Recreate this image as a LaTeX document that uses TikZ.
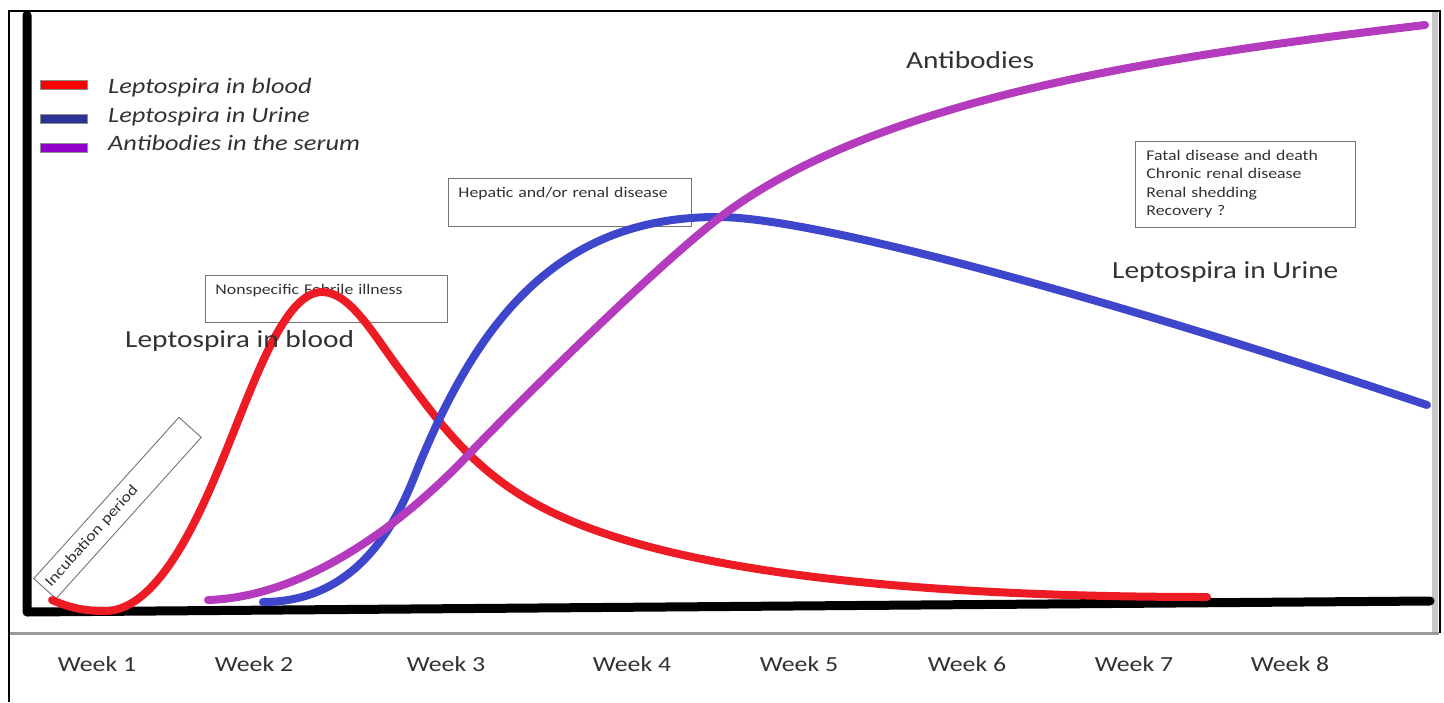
\documentclass[tikz,border=0pt]{standalone}
\usepackage{fontspec}
\setmainfont{Carlito}[FakeStretch=1.2]
\usepackage{tikz}
\definecolor{bloodred}{RGB}{237,28,36}
\definecolor{urineblue}{RGB}{62,70,204}
\definecolor{serumpurple}{RGB}{180,58,190}
\definecolor{legred}{RGB}{250,0,0}
\definecolor{legblue}{RGB}{46,50,150}
\definecolor{legpurple}{RGB}{145,0,200}
\definecolor{inktext}{RGB}{50,50,50}
\tikzset{
	curve/.style={line width=8pt, line cap=round, line join=round},
	legbar/.style={draw=black!45, line width=0.4pt, minimum width=47pt, minimum height=9pt, inner sep=0pt},
	legtext/.style={inner sep=0pt, text=inktext, anchor=base west, font=\itshape\fontsize{22}{26}\selectfont},
	biglabel/.style={inner sep=0pt, text=inktext, anchor=base west, font=\fontsize{24.5}{29}\selectfont},
	weeklabel/.style={inner sep=0pt, text=inktext, anchor=base, font=\fontsize{21.5}{26}\selectfont},
	stagebox/.style={draw=black!55, line width=0.9pt, anchor=north west, align=left, text=inktext,
		inner xsep=10pt, inner ysep=8pt, text height=11pt, font=\fontsize{14.8}{18.5}\selectfont}
}

\begin{document}
\begin{tikzpicture}[x=1pt, y=-1pt]
			%%%%% START %%%%%
			\useasboundingbox (0,0) rectangle (1444,702);
			
			\draw[line width=2.5pt] (9,702) -- (9,11) -- (1440,11) -- (1440,633);
			\fill[black!22] (1432,12) rectangle (1438,632);
			\draw[line width=3pt, color=black!40] (10,633) -- (1439,633);
			
			\draw[line width=9pt, line join=round, line cap=round] (27,15) -- (27,612) -- (1430,601);
			
			\node[legbar, fill=legred] (legblood) at (63.5,84.5) {};
			\node[legbar, fill=legblue] (legurine) at (63.5,118.5) {};
			\node[legbar, fill=legpurple] (legserum) at (63.5,148) {};
			\node[legtext] (legbloodtxt) at (108,93) {Leptospira in blood};
			\node[legtext] (legurinetxt) at (108,122) {Leptospira in Urine};
			\node[legtext] (legserumtxt) at (108,150) {Antibodies in the serum};
			
			\node[stagebox, minimum width=242pt, text width=222pt, text depth=20pt] (febrile) at (205,275) {Nonspecific Febrile illness};
			\node[stagebox, minimum width=243pt, text width=223pt, text depth=21pt] (hepatic) at (448,178) {Hepatic and/or renal disease};
			\node[stagebox, minimum width=219pt, text width=198pt, inner xsep=11pt, text depth=59pt] (outcome) at (1135,141)
				{Fatal disease and death\\Chronic renal disease\\Renal shedding\\Recovery ?};
			\node[draw=black!55, line width=0.9pt, rotate=48, minimum width=217pt, minimum height=30pt, text width=207pt,
				inner xsep=5pt, align=left, text=inktext, font=\fontsize{15}{17}\selectfont] (incubation) at (117.5,508) {Incubation period};
			
			% leptospira in blood
			\draw[curve, color=bloodred] (52,600) .. controls (72,609) and (88,611) .. (105,611)
				.. controls (160,611) and (202,510) .. (226,451)
				.. controls (256,377) and (285,292) .. (322,292)
				.. controls (350,292) and (373,334) .. (400,370)
				.. controls (442,426) and (478,479) .. (560,516)
				.. controls (696,578) and (950,597) .. (1207,597);
			% leptospira in urine
			\draw[curve, color=urineblue] (263,602) .. controls (360,602) and (398,518) .. (415,475)
				.. controls (478,317) and (560,217) .. (718,217)
				.. controls (820,217) and (1142,309) .. (1427,405);
			% antibodies
			\draw[curve, color=serumpurple] (208,600) .. controls (330,596) and (440,485) .. (470,453)
				.. controls (525,396) and (659,263) .. (723,215)
				.. controls (883,95) and (1175,55) .. (1425,25);
			
			\node[biglabel] (bloodlbl) at (125,347) {Leptospira in blood};
			\node[biglabel] (urinelbl) at (1112,278) {Leptospira in Urine};
			\node[biglabel] (serumlbl) at (906,68) {Antibodies};
			
			\node[weeklabel] (wk1) at (97,671) {Week 1};
			\node[weeklabel] (wk2) at (254,671) {Week 2};
			\node[weeklabel] (wk3) at (446,671) {Week 3};
			\node[weeklabel] (wk4) at (632,671) {Week 4};
			\node[weeklabel] (wk5) at (799,671) {Week 5};
			\node[weeklabel] (wk6) at (967,671) {Week 6};
			\node[weeklabel] (wk7) at (1134,671) {Week 7};
			\node[weeklabel] (wk8) at (1290,671) {Week 8};
			
			%%%%% END %%%%%
\end{tikzpicture}
\end{document}
